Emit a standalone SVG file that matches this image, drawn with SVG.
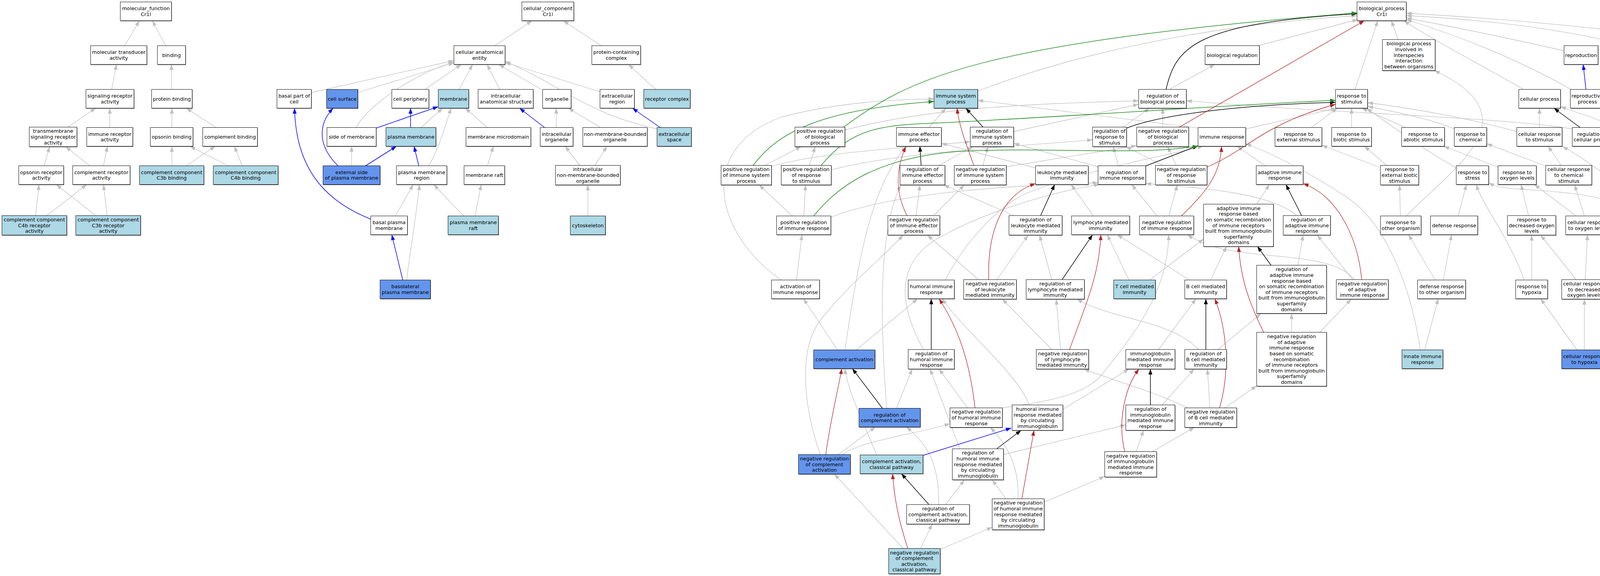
<svg xmlns="http://www.w3.org/2000/svg" width="4752" height="1475" viewBox="0 0 4752 1475">
<defs>
<style>
text{font-family:"DejaVu Sans","Liberation Sans",sans-serif;font-size:12.8px;text-anchor:middle;fill:#000}
.s{fill:#4a4a4a}
.w{fill:#fff;stroke:#000;stroke-width:1}
.lb{fill:#add8e6;stroke:#000;stroke-width:1}
.cb{fill:#6495ed;stroke:#000;stroke-width:1}
#edges path{fill:none}
.g{stroke:#c0c0c0;stroke-width:1.3;marker-end:url(#ag)}
.k{stroke:#000;stroke-width:1.5;marker-end:url(#ak)}
.b{stroke:#0000ff;stroke-width:1.5;marker-end:url(#ab)}
.gr{stroke:#228b22;stroke-width:1.5;marker-end:url(#agr)}
.r{stroke:#b22222;stroke-width:1.3;marker-end:url(#ar)}
</style>
<marker id="ag" markerWidth="14" markerHeight="10" refX="14" refY="5" orient="auto" markerUnits="userSpaceOnUse"><path d="M0,0 L14,5 L0,10 z" fill="#c0c0c0"/></marker>
<marker id="ak" markerWidth="14" markerHeight="10" refX="14" refY="5" orient="auto" markerUnits="userSpaceOnUse"><path d="M0,0 L14,5 L0,10 z" fill="#000"/></marker>
<marker id="ab" markerWidth="14" markerHeight="10" refX="14" refY="5" orient="auto" markerUnits="userSpaceOnUse"><path d="M0,0 L14,5 L0,10 z" fill="#0000ff"/></marker>
<marker id="agr" markerWidth="14" markerHeight="10" refX="14" refY="5" orient="auto" markerUnits="userSpaceOnUse"><path d="M0,0 L14,5 L0,10 z" fill="#228b22"/></marker>
<marker id="ar" markerWidth="14" markerHeight="10" refX="14" refY="5" orient="auto" markerUnits="userSpaceOnUse"><path d="M0,0 L14,5 L0,10 z" fill="#b22222"/></marker>
</defs>
<rect x="0" y="0" width="4752" height="1475" fill="#fff"/>
<g id="edges">
<path class="g" d="M319,117 L357,53"/>
<path class="g" d="M424,117 L390,53"/>
<path class="g" d="M286,229 L298,165"/>
<path class="g" d="M439,229 L439,165"/>
<path class="g" d="M173,326 L245,277"/>
<path class="g" d="M281,326.5 L281,277"/>
<path class="g" d="M440,326.5 L440,277"/>
<path class="g" d="M553,326.5 L477,277"/>
<path class="g" d="M113,424.5 L127,375.5"/>
<path class="g" d="M230,424.5 L168,375.5"/>
<path class="g" d="M265,424.5 L275,374.5"/>
<path class="g" d="M440,424.5 L440,374.5"/>
<path class="g" d="M477,424.5 L551,374.5"/>
<path class="g" d="M584,424.5 L486,374.5"/>
<path class="g" d="M620,424.5 L600,374.5"/>
<path class="g" d="M91,552 L100,472.5"/>
<path class="g" d="M120,552 L222,472.5"/>
<path class="g" d="M245,552 L144,472.5"/>
<path class="g" d="M274,552 L265,472.5"/>
<path class="g" d="M1267,117 L1362,53"/>
<path class="g" d="M1539,117 L1442,53"/>
<path class="g" d="M797,237 L1162,155"/>
<path class="g" d="M916,237 L1162,161"/>
<path class="g" d="M912,326.5 C940,270 1060,190 1162,158"/>
<path class="g" d="M1088,229 L1181,165"/>
<path class="g" d="M1175,229 L1210,165"/>
<path class="g" d="M1279,229 L1247,165"/>
<path class="g" d="M1387,230 L1277,165"/>
<path class="g" d="M1536,235 L1293,160"/>
<path class="g" d="M1681,330 C1500,290 1440,220 1293,157"/>
<path class="g" d="M1679,229 L1609,165"/>
<path class="g" d="M1078,326.5 L1133,277"/>
<path class="g" d="M1248,326.5 L1191,277"/>
<path class="g" d="M1424,326.5 L1424,277"/>
<path class="g" d="M1537,326.5 L1455,277"/>
<path class="g" d="M900,424.5 L900,374.5"/>
<path class="g" d="M1098,424.5 C1128,370 1140,320 1155,277"/>
<path class="g" d="M1248,424.5 L1263,374.5"/>
<path class="g" d="M1484,423.5 L1447,374.5"/>
<path class="g" d="M1523,423.5 L1554,374.5"/>
<path class="g" d="M1012,553 L1058,472.5"/>
<path class="g" d="M1041,717 C1050,640 1065,560 1074,472.5"/>
<path class="g" d="M1187,553 L1110,472.5"/>
<path class="g" d="M1216,553 L1232,472.5"/>
<path class="g" d="M1505,553 L1505,473.5"/>
<path class="b" d="M963,328 L1122,273"/>
<path class="b" d="M1051,326.5 L1051,277"/>
<path class="b" d="M1394,326.5 L1330,277"/>
<path class="b" d="M1690,326.5 L1619,277"/>
<path class="b" d="M865,424.5 C815,375 812,320 853,277"/>
<path class="b" d="M936,424.5 L1015,374.5"/>
<path class="b" d="M1072,424.5 L1060,374.5"/>
<path class="b" d="M949,561 C820,510 757,420 754,277"/>
<path class="b" d="M1031,717 L1003,601"/>
<path class="g" d="M3220,117 L3476,50"/>
<path class="g" d="M2503,233 C2800,120 3150,60 3474,40"/>
<path class="g" d="M3469,229 L3527,53"/>
<path class="g" d="M3579,101.5 L3562,53"/>
<path class="g" d="M4004,130 C3850,95 3700,65 3600,46"/>
<path class="g" d="M4472,128 C4300,90 3900,50 3600,34"/>
<path class="g" d="M3900,229 C3800,170 3680,110 3594,53"/>
<path class="g" d="M4022,229 C3900,160 3760,100 3600,50"/>
<path class="g" d="M4443,229 C4300,130 4000,60 3600,40"/>
<path class="g" d="M2994,229 L3110,165"/>
<path class="g" d="M4628,229 L4556,165"/>
<path class="g" d="M2163,333 C2400,270 2700,265 2915,258"/>
<path class="g" d="M2378,326.5 L2422,277"/>
<path class="g" d="M2595,337 L2915,267"/>
<path class="g" d="M2875,325.5 L2943,277"/>
<path class="g" d="M2976.5,325.5 L2976.5,277"/>
<path class="g" d="M3067,328 L2503,257"/>
<path class="g" d="M3190,330 L3421,277"/>
<path class="g" d="M3357,326.5 L3424,277"/>
<path class="g" d="M3460,326.5 L3460,277"/>
<path class="g" d="M3598,326.5 L3486,277"/>
<path class="g" d="M3723,330 C3650,300 3560,285 3501,272"/>
<path class="g" d="M3883,337 C3750,300 3600,275 3501,263"/>
<path class="g" d="M3941,326.5 L3941,277"/>
<path class="g" d="M4025,330 C3850,300 3400,290 3037,258"/>
<path class="g" d="M4158,330 L3995,273"/>
<path class="g" d="M4271,330 L4107,271"/>
<path class="g" d="M4493,326.5 L4493,277"/>
<path class="g" d="M4619,326.5 L4537,277"/>
<path class="g" d="M4658,326.5 L4658,277"/>
<path class="g" d="M1958,423.5 L2051,375.5"/>
<path class="g" d="M1975,426 C2100,390 2300,380 2484,363"/>
<path class="g" d="M2072,423.5 L2087,375.5"/>
<path class="g" d="M2128,435 C2300,390 2600,375 2797,358"/>
<path class="g" d="M2404,423.5 L2491,375.5"/>
<path class="g" d="M2516.5,423.5 L2529,375.5"/>
<path class="g" d="M2576,427 L2910,373"/>
<path class="g" d="M2651,430 L2410,367"/>
<path class="g" d="M2811,427 L2595,367"/>
<path class="g" d="M2863,424.5 L2850,375.5"/>
<path class="g" d="M2977,423.5 L2882,375.5"/>
<path class="g" d="M3011,423.5 L2989,375.5"/>
<path class="g" d="M3239,424.5 L3167,374.5"/>
<path class="g" d="M3531,428 L3384,372"/>
<path class="g" d="M3550,423.5 L3493,374.5"/>
<path class="g" d="M3728,430 C3640,380 3560,320 3498,277"/>
<path class="g" d="M3835,428 L3696,374.5"/>
<path class="g" d="M3955,424.5 L3806,368"/>
<path class="g" d="M3997,423.5 L3963,374.5"/>
<path class="g" d="M4164,424.5 L4111,374.5"/>
<path class="g" d="M4309,424.5 L4228,374.5"/>
<path class="g" d="M4465,424.5 L4372,375.5"/>
<path class="g" d="M4506,424.5 L4499,374.5"/>
<path class="g" d="M4670,424.5 L4662,374.5"/>
<path class="g" d="M2029,553 L1943,473.5"/>
<path class="g" d="M2058,553 L2062,473.5"/>
<path class="g" d="M2127,556 C2300,490 2600,475 2811,468"/>
<path class="g" d="M2345,552 L2355,473.5"/>
<path class="g" d="M2390,552 L2469,473.5"/>
<path class="g" d="M2595,552 L2416,473.5"/>
<path class="g" d="M2799,553 L2742,472.5"/>
<path class="g" d="M2962,553 L2897,472.5"/>
<path class="g" d="M2992,553 L3014,473.5"/>
<path class="g" d="M3217,523 L3250,472.5"/>
<path class="g" d="M3319,552 C3250,490 3050,480 2933,470"/>
<path class="g" d="M3585,553 L3583,473.5"/>
<path class="g" d="M3600,553 C3720,430 3930,300 3672,180.5"/>
<path class="g" d="M3733,553 L3754,472.5"/>
<path class="g" d="M3913,552 L3894,472.5"/>
<path class="g" d="M4035,553 L3928,472.5"/>
<path class="g" d="M4056,553 L4031,473.5"/>
<path class="g" d="M4183,553 C4150,500 4000,492 3900,485 C3850,482 3830,478 3811,468"/>
<path class="g" d="M4191,553 C4160,480 4080,420 4000,375"/>
<path class="g" d="M4337,552 L4229,472.5"/>
<path class="g" d="M4673.5,552 L4673.5,472.5"/>
<path class="g" d="M2039,717 L2053,601"/>
<path class="g" d="M2000,717 C1830,600 1780,380 2000,300 C2150,260 2300,255 2391,253"/>
<path class="g" d="M2420,717 C2470,620 2560,520 2640,490 C2800,430 2980,400 3080,374.5"/>
<path class="g" d="M2552,716 L2632,602"/>
<path class="g" d="M2505,716 L2374,602"/>
<path class="g" d="M2692.6,716 L2661,602"/>
<path class="g" d="M2890,717 L2834.5,601"/>
<path class="g" d="M2943,717 L3081,612"/>
<path class="g" d="M3045.5,717 L2860,601"/>
<path class="g" d="M3099,717 L3140,631"/>
<path class="g" d="M3322.5,679 L3336,602"/>
<path class="g" d="M3463,716 L3372,602"/>
<path class="g" d="M3467,716 C3400,630 3150,680 3040,601"/>
<path class="g" d="M3674,717 L3606,601"/>
<path class="g" d="M3695,717 L3716,601"/>
<path class="g" d="M3921,717 L3921,602"/>
<path class="g" d="M3902,717 C3860,600 3790,520 3780,472.5"/>
<path class="g" d="M4035,716 L3944,602"/>
<path class="g" d="M4058,716 L4064,601"/>
<path class="g" d="M4673,717 L4673,602"/>
<path class="g" d="M2144,896 L2057,765"/>
<path class="g" d="M2192,896 L2349,765"/>
<path class="g" d="M2163,896 C2200,650 2230,480 2320,374.5"/>
<path class="g" d="M2364,895 C2290,760 2300,660 2420,600 C2530,540 2700,490 2815,472.5"/>
<path class="g" d="M2715,895 L2704,766"/>
<path class="g" d="M2692.6,895 L2566,766"/>
<path class="g" d="M2966,895 L3062,765"/>
<path class="g" d="M3068,895 C3000,820 2850,820 2757,766"/>
<path class="g" d="M3118,895 L3228,803"/>
<path class="g" d="M3306.5,851 L3306.5,803"/>
<path class="g" d="M3379,851 L3459,766"/>
<path class="g" d="M3647,896 L3682,765"/>
<path class="g" d="M3636,896 C3610,720 3540,560 3440,500 C3350,440 3250,390 3189,368"/>
<path class="g" d="M4037,896 L3944,765"/>
<path class="g" d="M4056,896 L4056,766"/>
<path class="g" d="M4673.5,896 L4673.5,765"/>
<path class="g" d="M2270,1045.5 C2255,850 2245,600 2306,473.5"/>
<path class="g" d="M2295,1045.5 L2335,945"/>
<path class="g" d="M2477,1044.5 L2404,945"/>
<path class="g" d="M2560,1045 C2680,1030 2780,1010 2820,960 C2900,860 2990,750 2992,601"/>
<path class="g" d="M2635,1037 C2600,950 2470,850 2412,765"/>
<path class="g" d="M2721,1048 L2890,945"/>
<path class="g" d="M2975,1037 L3057,945"/>
<path class="g" d="M3097.5,1044.5 L3091,945"/>
<path class="g" d="M3041,1045 C2950,1000 2850,975 2775,945"/>
<path class="g" d="M3135,1044.5 L3217,988"/>
<path class="g" d="M2146,1164 L2241,1093.5"/>
<path class="g" d="M2156,1164 C2200,1130 2350,1110 2432,1085"/>
<path class="g" d="M2100,1164 C2060,1050 2040,900 2100,820 C2180,720 2260,660 2312,602"/>
<path class="g" d="M2244,1165 C2210,1080 2170,1000 2163,944"/>
<path class="g" d="M2457,1149 L2381,945"/>
<path class="g" d="M2569,1164 L2882,1088"/>
<path class="g" d="M2908.5,1156.5 L2927.5,1102"/>
<path class="g" d="M2950,1156.5 L3058,1094.5"/>
<path class="g" d="M2421,1292 L2469,1229"/>
<path class="g" d="M2403,1292 C2405,1200 2380,1140 2320,1093.5"/>
<path class="g" d="M2575,1277 L2540,1229"/>
<path class="g" d="M2673,1286 L2828,1220"/>
<path class="g" d="M2606,1277 C2610,1200 2580,1140 2535,1094.5"/>
<path class="g" d="M2312,1404.5 L2136,1214"/>
<path class="g" d="M2357,1404.5 L2386,1342"/>
<path class="g" d="M2407,1407 L2540,1350"/>
<path class="k" d="M2985,229 C3010,120 3060,60 3474,35"/>
<path class="k" d="M2516.5,325.5 L2472.5,277"/>
<path class="k" d="M2884,328 C2980,290 3200,268 3419,262"/>
<path class="k" d="M4045,326.5 L3978,277"/>
<path class="k" d="M2358,423.5 L2355,374.5"/>
<path class="k" d="M2933,425 L3067,373"/>
<path class="k" d="M4194.5,424.5 L4194.5,374.5"/>
<path class="k" d="M2664,552 L2700,472.5"/>
<path class="k" d="M3332,552 L3292,472.5"/>
<path class="k" d="M4366,552 L4351,472.5"/>
<path class="k" d="M2719,716 L2797,601"/>
<path class="k" d="M3254,679.5 L3219,631"/>
<path class="k" d="M2384,895 L2384,765"/>
<path class="k" d="M3087,895 L3087,765"/>
<path class="k" d="M2259,1045.5 L2182,944"/>
<path class="k" d="M2945,1037 L2945,945"/>
<path class="k" d="M2552,1149 L2614,1102"/>
<path class="k" d="M2378,1292 L2307.5,1213"/>
<path class="gr" d="M2159,326 C2330,200 2500,110 3474,33"/>
<path class="gr" d="M1928,423.5 C1990,340 2100,280 2391,260"/>
<path class="gr" d="M2102,423.5 C2180,330 2250,320 2400,315 C2800,295 3200,265 3419,257"/>
<path class="gr" d="M2083,553 C2150,470 2250,405 2450,388 C2700,375 2900,400 3067,374"/>
<path class="r" d="M3019,325.5 L3493,53"/>
<path class="r" d="M2493,423.5 C2470,360 2455,320 2450,277"/>
<path class="r" d="M3090,428 C3200,380 3230,320 3419,267"/>
<path class="r" d="M2322,552 C2295,500 2290,440 2319,375.5"/>
<path class="r" d="M3024,553 C3080,500 3125,450 3127,375"/>
<path class="r" d="M2531,716 C2528,600 2560,500 2651,470"/>
<path class="r" d="M3486,716 C3475,600 3420,500 3336,470"/>
<path class="r" d="M2738,895 C2780,780 2815,700 2818,601"/>
<path class="r" d="M3235,851 C3190,760 3175,700 3171,631"/>
<path class="r" d="M2496,1044.5 C2480,900 2440,820 2404,765"/>
<path class="r" d="M3122,1044.5 C3150,950 3140,840 3110,765"/>
<path class="r" d="M2114,1164 C2125,1080 2145,1000 2155,944"/>
<path class="r" d="M2879.5,1156.5 C2860,1080 2880,990 2916,945"/>
<path class="r" d="M2616,1277 L2647,1102"/>
<path class="r" d="M2324,1404.5 C2300,1330 2290,1280 2285,1213"/>
<path class="b" d="M4060,229 L4053,165"/>
<path class="b" d="M2363,1166 L2589,1096"/>
</g>
<g id="nodes">
<g id="mf"><rect class="s" x="309" y="6.3" width="131" height="48"/><rect class="w" x="308" y="5" width="131" height="48"/><text x="373.5" y="26.2">molecular_function<tspan x="373.5" dy="14.6">Cr1l</tspan></text></g>
<g id="mta"><rect class="s" x="233" y="118.3" width="144" height="48"/><rect class="w" x="232" y="117" width="144" height="48"/><text x="304" y="138.2">molecular transducer<tspan x="304" dy="14.6">activity</tspan></text></g>
<g id="bind"><rect class="s" x="404" y="118.3" width="72" height="48"/><rect class="w" x="403" y="117" width="72" height="48"/><text x="439" y="145.5">binding</text></g>
<g id="sra"><rect class="s" x="221" y="230.3" width="123" height="48"/><rect class="w" x="220" y="229" width="123" height="48"/><text x="281.5" y="250.2">signaling receptor<tspan x="281.5" dy="14.6">activity</tspan></text></g>
<g id="pb"><rect class="s" x="389" y="230.3" width="104" height="48"/><rect class="w" x="388" y="229" width="104" height="48"/><text x="440" y="257.5">protein binding</text></g>
<g id="tsra"><rect class="s" x="76" y="326.8" width="122" height="50"/><rect class="w" x="75" y="325.5" width="122" height="50"/><text x="136" y="340.4">transmembrane<tspan x="136" dy="14.6">signaling receptor</tspan><tspan x="136" dy="14.6">activity</tspan></text></g>
<g id="ira"><rect class="s" x="223" y="327.8" width="118" height="48"/><rect class="w" x="222" y="326.5" width="118" height="48"/><text x="281" y="347.7">immune receptor<tspan x="281" dy="14.6">activity</tspan></text></g>
<g id="ob"><rect class="s" x="386" y="327.8" width="109" height="48"/><rect class="w" x="385" y="326.5" width="109" height="48"/><text x="439.5" y="355">opsonin binding</text></g>
<g id="cbind"><rect class="s" x="520" y="327.8" width="140" height="48"/><rect class="w" x="519" y="326.5" width="140" height="48"/><text x="589" y="355">complement binding</text></g>
<g id="ora"><rect class="s" x="49" y="425.8" width="115" height="48"/><rect class="w" x="48" y="424.5" width="115" height="48"/><text x="105.5" y="445.7">opsonin receptor<tspan x="105.5" dy="14.6">activity</tspan></text></g>
<g id="cra"><rect class="s" x="187" y="425.8" width="147" height="48"/><rect class="w" x="186" y="424.5" width="147" height="48"/><text x="259.5" y="445.7">complement receptor<tspan x="259.5" dy="14.6">activity</tspan></text></g>
<g id="c3bb"><rect class="s" x="358" y="425.8" width="165" height="48"/><rect class="lb" x="357" y="424.5" width="165" height="48"/><text x="439.5" y="445.7">complement component<tspan x="439.5" dy="14.6">C3b binding</tspan></text></g>
<g id="c4bb"><rect class="s" x="547" y="425.8" width="166" height="48"/><rect class="lb" x="546" y="424.5" width="166" height="48"/><text x="629" y="445.7">complement component<tspan x="629" dy="14.6">C4b binding</tspan></text></g>
<g id="c4bra"><rect class="s" x="6" y="553.3" width="166" height="50"/><rect class="lb" x="5" y="552" width="166" height="50"/><text x="88" y="566.9">complement component<tspan x="88" dy="14.6">C4b receptor</tspan><tspan x="88" dy="14.6">activity</tspan></text></g>
<g id="c3bra"><rect class="s" x="195" y="553.3" width="166" height="50"/><rect class="lb" x="194" y="552" width="166" height="50"/><text x="277" y="566.9">complement component<tspan x="277" dy="14.6">C3b receptor</tspan><tspan x="277" dy="14.6">activity</tspan></text></g>
<g id="cc"><rect class="s" x="1337" y="6.3" width="133" height="48"/><rect class="w" x="1336" y="5" width="133" height="48"/><text x="1402.5" y="26.2">cellular_component<tspan x="1402.5" dy="14.6">Cr1l</tspan></text></g>
<g id="cae"><rect class="s" x="1163" y="118.3" width="131" height="48"/><rect class="w" x="1162" y="117" width="131" height="48"/><text x="1227.5" y="138.2">cellular anatomical<tspan x="1227.5" dy="14.6">entity</tspan></text></g>
<g id="pcc"><rect class="s" x="1516" y="118.3" width="125" height="48"/><rect class="w" x="1515" y="117" width="125" height="48"/><text x="1577.5" y="138.2">protein-containing<tspan x="1577.5" dy="14.6">complex</tspan></text></g>
<g id="bpc"><rect class="s" x="710" y="230.3" width="88" height="48"/><rect class="w" x="709" y="229" width="88" height="48"/><text x="753" y="250.2">basal part of<tspan x="753" dy="14.6">cell</tspan></text></g>
<g id="cs"><rect class="s" x="837" y="230.3" width="80" height="48"/><rect class="cb" x="836" y="229" width="80" height="48"/><text x="876" y="257.5">cell surface</text></g>
<g id="cp"><rect class="s" x="1004" y="230.3" width="95" height="48"/><rect class="w" x="1003" y="229" width="95" height="48"/><text x="1050.5" y="257.5">cell periphery</text></g>
<g id="mem"><rect class="s" x="1123" y="230.3" width="78" height="48"/><rect class="lb" x="1122" y="229" width="78" height="48"/><text x="1161" y="257.5">membrane</text></g>
<g id="ias"><rect class="s" x="1225" y="230.3" width="141" height="48"/><rect class="w" x="1224" y="229" width="141" height="48"/><text x="1294.5" y="250.2">intracellular<tspan x="1294.5" dy="14.6">anatomical structure</tspan></text></g>
<g id="org"><rect class="s" x="1390" y="230.3" width="73" height="48"/><rect class="w" x="1389" y="229" width="73" height="48"/><text x="1425.5" y="257.5">organelle</text></g>
<g id="ecr"><rect class="s" x="1537" y="230.3" width="88" height="48"/><rect class="w" x="1536" y="229" width="88" height="48"/><text x="1580" y="250.2">extracellular<tspan x="1580" dy="14.6">region</tspan></text></g>
<g id="rc"><rect class="s" x="1649" y="230.3" width="119" height="48"/><rect class="lb" x="1648" y="229" width="119" height="48"/><text x="1707.5" y="257.5">receptor complex</text></g>
<g id="som"><rect class="s" x="838" y="327.8" width="126" height="48"/><rect class="w" x="837" y="326.5" width="126" height="48"/><text x="900" y="355">side of membrane</text></g>
<g id="pm"><rect class="s" x="989" y="327.8" width="128" height="48"/><rect class="lb" x="988" y="326.5" width="128" height="48"/><text x="1052" y="355">plasma membrane</text></g>
<g id="mmd"><rect class="s" x="1194" y="327.8" width="166" height="48"/><rect class="w" x="1193" y="326.5" width="166" height="48"/><text x="1276" y="355">membrane microdomain</text></g>
<g id="io"><rect class="s" x="1384" y="327.8" width="84" height="48"/><rect class="w" x="1383" y="326.5" width="84" height="48"/><text x="1425" y="347.7">intracellular<tspan x="1425" dy="14.6">organelle</tspan></text></g>
<g id="nmbo"><rect class="s" x="1493" y="327.8" width="165" height="48"/><rect class="w" x="1492" y="326.5" width="165" height="48"/><text x="1574.5" y="347.7">non-membrane-bounded<tspan x="1574.5" dy="14.6">organelle</tspan></text></g>
<g id="ecs"><rect class="s" x="1683" y="327.8" width="88" height="48"/><rect class="lb" x="1682" y="326.5" width="88" height="48"/><text x="1726" y="347.7">extracellular<tspan x="1726" dy="14.6">space</tspan></text></g>
<g id="espm"><rect class="s" x="828" y="425.8" width="146" height="48"/><rect class="cb" x="827" y="424.5" width="146" height="48"/><text x="900" y="445.7">external side<tspan x="900" dy="14.6">of plasma membrane</tspan></text></g>
<g id="pmr"><rect class="s" x="1016" y="425.8" width="129" height="48"/><rect class="w" x="1015" y="424.5" width="129" height="48"/><text x="1079.5" y="445.7">plasma membrane<tspan x="1079.5" dy="14.6">region</tspan></text></g>
<g id="mr"><rect class="s" x="1189" y="425.8" width="104" height="48"/><rect class="w" x="1188" y="424.5" width="104" height="48"/><text x="1240" y="453">membrane raft</text></g>
<g id="inmbo"><rect class="s" x="1423" y="424.8" width="166" height="50"/><rect class="w" x="1422" y="423.5" width="166" height="50"/><text x="1505" y="438.4">intracellular<tspan x="1505" dy="14.6">non-membrane-bounded</tspan><tspan x="1505" dy="14.6">organelle</tspan></text></g>
<g id="bpm"><rect class="s" x="950" y="554.3" width="94" height="48"/><rect class="w" x="949" y="553" width="94" height="48"/><text x="996" y="574.2">basal plasma<tspan x="996" dy="14.6">membrane</tspan></text></g>
<g id="pmraft"><rect class="s" x="1148" y="554.3" width="129" height="48"/><rect class="lb" x="1147" y="553" width="129" height="48"/><text x="1211.5" y="574.2">plasma membrane<tspan x="1211.5" dy="14.6">raft</tspan></text></g>
<g id="cyto"><rect class="s" x="1461" y="554.3" width="90" height="48"/><rect class="lb" x="1460" y="553" width="90" height="48"/><text x="1505" y="581.5">cytoskeleton</text></g>
<g id="blpm"><rect class="s" x="974" y="718.3" width="129" height="48"/><rect class="cb" x="973" y="717" width="129" height="48"/><text x="1037.5" y="738.2">basolateral<tspan x="1037.5" dy="14.6">plasma membrane</tspan></text></g>
<g id="bp"><rect class="s" x="3475" y="6.3" width="126" height="48"/><rect class="w" x="3474" y="5" width="126" height="48"/><text x="3537" y="26.2">biological_process<tspan x="3537" dy="14.6">Cr1l</tspan></text></g>
<g id="breg"><rect class="s" x="3086" y="118.3" width="139" height="48"/><rect class="w" x="3085" y="117" width="139" height="48"/><text x="3154.5" y="145.5">biological regulation</text></g>
<g id="bpii"><rect class="s" x="3540" y="102.5" width="135" height="79.5"/><rect class="w" x="3539" y="101.25" width="135" height="79.5"/><text x="3606.5" y="116.3">biological process<tspan x="3606.5" dy="14.6">involved in</tspan><tspan x="3606.5" dy="14.6">interspecies</tspan><tspan x="3606.5" dy="14.6">interaction</tspan><tspan x="3606.5" dy="14.6">between organisms</tspan></text></g>
<g id="repro"><rect class="s" x="4005" y="118.3" width="87" height="48"/><rect class="w" x="4004" y="117" width="87" height="48"/><text x="4047.5" y="145.5">reproduction</text></g>
<g id="devp"><rect class="s" x="4473" y="118.3" width="104" height="48"/><rect class="w" x="4472" y="117" width="104" height="48"/><text x="4524" y="138.2">developmental<tspan x="4524" dy="14.6">process</tspan></text></g>
<g id="isp"><rect class="s" x="2392" y="230.3" width="112" height="48"/><rect class="lb" x="2391" y="229" width="112" height="48"/><text x="2447" y="250.2">immune system<tspan x="2447" dy="14.6">process</tspan></text></g>
<g id="rbp"><rect class="s" x="2916" y="230.3" width="122" height="48"/><rect class="w" x="2915" y="229" width="122" height="48"/><text x="2976" y="250.2">regulation of<tspan x="2976" dy="14.6">biological process</tspan></text></g>
<g id="rts"><rect class="s" x="3420" y="230.3" width="82" height="48"/><rect class="w" x="3419" y="229" width="82" height="48"/><text x="3460" y="250.2">response to<tspan x="3460" dy="14.6">stimulus</tspan></text></g>
<g id="cellp"><rect class="s" x="3889" y="230.3" width="107" height="48"/><rect class="w" x="3888" y="229" width="107" height="48"/><text x="3941.5" y="257.5">cellular process</text></g>
<g id="reprop"><rect class="s" x="4021" y="230.3" width="87" height="48"/><rect class="w" x="4020" y="229" width="87" height="48"/><text x="4063.5" y="250.2">reproductive<tspan x="4063.5" dy="14.6">process</tspan></text></g>
<g id="mop"><rect class="s" x="4428" y="230.3" width="133" height="48"/><rect class="w" x="4427" y="229" width="133" height="48"/><text x="4493.5" y="250.2">multicellular<tspan x="4493.5" dy="14.6">organismal process</tspan></text></g>
<g id="asd"><rect class="s" x="4588" y="230.3" width="141" height="48"/><rect class="w" x="4587" y="229" width="141" height="48"/><text x="4657.5" y="250.2">anatomical structure<tspan x="4657.5" dy="14.6">development</tspan></text></g>
<g id="prbp"><rect class="s" x="2036" y="326.8" width="128" height="50"/><rect class="w" x="2035" y="325.5" width="128" height="50"/><text x="2099" y="340.4">positive regulation<tspan x="2099" dy="14.6">of biological</tspan><tspan x="2099" dy="14.6">process</tspan></text></g>
<g id="iep"><rect class="s" x="2296" y="327.8" width="115" height="48"/><rect class="w" x="2295" y="326.5" width="115" height="48"/><text x="2352.5" y="347.7">immune effector<tspan x="2352.5" dy="14.6">process</tspan></text></g>
<g id="risp"><rect class="s" x="2485" y="326.8" width="111" height="50"/><rect class="w" x="2484" y="325.5" width="111" height="50"/><text x="2539.5" y="340.4">regulation of<tspan x="2539.5" dy="14.6">immune system</tspan><tspan x="2539.5" dy="14.6">process</tspan></text></g>
<g id="rrts"><rect class="s" x="2798" y="326.8" width="87" height="50"/><rect class="w" x="2797" y="325.5" width="87" height="50"/><text x="2840.5" y="340.4">regulation of<tspan x="2840.5" dy="14.6">response to</tspan><tspan x="2840.5" dy="14.6">stimulus</tspan></text></g>
<g id="nrbp"><rect class="s" x="2911" y="326.8" width="133" height="50"/><rect class="w" x="2910" y="325.5" width="133" height="50"/><text x="2976.5" y="340.4">negative regulation<tspan x="2976.5" dy="14.6">of biological</tspan><tspan x="2976.5" dy="14.6">process</tspan></text></g>
<g id="ir"><rect class="s" x="3068" y="327.8" width="122" height="48"/><rect class="w" x="3067" y="326.5" width="122" height="48"/><text x="3128" y="355">immune response</text></g>
<g id="rtes"><rect class="s" x="3265" y="327.8" width="120" height="48"/><rect class="w" x="3264" y="326.5" width="120" height="48"/><text x="3324" y="347.7">response to<tspan x="3324" dy="14.6">external stimulus</tspan></text></g>
<g id="rtbs"><rect class="s" x="3410" y="327.8" width="102" height="48"/><rect class="w" x="3409" y="326.5" width="102" height="48"/><text x="3460" y="347.7">response to<tspan x="3460" dy="14.6">biotic stimulus</tspan></text></g>
<g id="rtas"><rect class="s" x="3589" y="327.8" width="110" height="48"/><rect class="w" x="3588" y="326.5" width="110" height="48"/><text x="3643" y="347.7">response to<tspan x="3643" dy="14.6">abiotic stimulus</tspan></text></g>
<g id="rtc"><rect class="s" x="3724" y="327.8" width="83" height="48"/><rect class="w" x="3723" y="326.5" width="83" height="48"/><text x="3764.5" y="347.7">response to<tspan x="3764.5" dy="14.6">chemical</tspan></text></g>
<g id="crts"><rect class="s" x="3884" y="327.8" width="116" height="48"/><rect class="w" x="3883" y="326.5" width="116" height="48"/><text x="3941" y="347.7">cellular response<tspan x="3941" dy="14.6">to stimulus</tspan></text></g>
<g id="rcp"><rect class="s" x="4026" y="327.8" width="107" height="48"/><rect class="w" x="4025" y="326.5" width="107" height="48"/><text x="4078.5" y="347.7">regulation of<tspan x="4078.5" dy="14.6">cellular process</tspan></text></g>
<g id="ck"><rect class="s" x="4159" y="327.8" width="73" height="48"/><rect class="w" x="4158" y="326.5" width="73" height="48"/><text x="4194.5" y="355">cell killing</text></g>
<g id="morp"><rect class="s" x="4272" y="326.8" width="106" height="50"/><rect class="w" x="4271" y="325.5" width="106" height="50"/><text x="4324" y="340.4">multi-organism<tspan x="4324" dy="14.6">reproductive</tspan><tspan x="4324" dy="14.6">process</tspan></text></g>
<g id="mmop"><rect class="s" x="4431" y="327.8" width="126" height="48"/><rect class="w" x="4430" y="326.5" width="126" height="48"/><text x="4493" y="347.7">multi-multicellular<tspan x="4493" dy="14.6">organism process</tspan></text></g>
<g id="mod"><rect class="s" x="4582" y="327.8" width="157" height="48"/><rect class="lb" x="4581" y="326.5" width="157" height="48"/><text x="4659.5" y="347.7">multicellular<tspan x="4659.5" dy="14.6">organism development</tspan></text></g>
<g id="prisp"><rect class="s" x="1847" y="424.8" width="129" height="50"/><rect class="w" x="1846" y="423.5" width="129" height="50"/><text x="1910.5" y="438.4">positive regulation<tspan x="1910.5" dy="14.6">of immune system</tspan><tspan x="1910.5" dy="14.6">process</tspan></text></g>
<g id="prrts"><rect class="s" x="2001" y="424.8" width="128" height="50"/><rect class="w" x="2000" y="423.5" width="128" height="50"/><text x="2064" y="438.4">positive regulation<tspan x="2064" dy="14.6">of response</tspan><tspan x="2064" dy="14.6">to stimulus</tspan></text></g>
<g id="riep"><rect class="s" x="2305" y="424.8" width="115" height="50"/><rect class="w" x="2304" y="423.5" width="115" height="50"/><text x="2361.5" y="438.4">regulation of<tspan x="2361.5" dy="14.6">immune effector</tspan><tspan x="2361.5" dy="14.6">process</tspan></text></g>
<g id="nrisp"><rect class="s" x="2444" y="424.8" width="133" height="50"/><rect class="w" x="2443" y="423.5" width="133" height="50"/><text x="2509.5" y="438.4">negative regulation<tspan x="2509.5" dy="14.6">of immune system</tspan><tspan x="2509.5" dy="14.6">process</tspan></text></g>
<g id="lmi"><rect class="s" x="2652" y="425.8" width="135" height="48"/><rect class="w" x="2651" y="424.5" width="135" height="48"/><text x="2718.5" y="445.7">leukocyte mediated<tspan x="2718.5" dy="14.6">immunity</tspan></text></g>
<g id="rir"><rect class="s" x="2812" y="425.8" width="122" height="48"/><rect class="w" x="2811" y="424.5" width="122" height="48"/><text x="2872" y="445.7">regulation of<tspan x="2872" dy="14.6">immune response</tspan></text></g>
<g id="nrrts"><rect class="s" x="2959" y="424.8" width="132" height="50"/><rect class="w" x="2958" y="423.5" width="132" height="50"/><text x="3024" y="438.4">negative regulation<tspan x="3024" dy="14.6">of response</tspan><tspan x="3024" dy="14.6">to stimulus</tspan></text></g>
<g id="air"><rect class="s" x="3217" y="425.8" width="120" height="48"/><rect class="w" x="3216" y="424.5" width="120" height="48"/><text x="3276" y="445.7">adaptive immune<tspan x="3276" dy="14.6">response</tspan></text></g>
<g id="rtebs"><rect class="s" x="3535" y="424.8" width="98" height="50"/><rect class="w" x="3534" y="423.5" width="98" height="50"/><text x="3583" y="438.4">response to<tspan x="3583" dy="14.6">external biotic</tspan><tspan x="3583" dy="14.6">stimulus</tspan></text></g>
<g id="rtst"><rect class="s" x="3729" y="425.8" width="83" height="48"/><rect class="w" x="3728" y="424.5" width="83" height="48"/><text x="3769.5" y="445.7">response to<tspan x="3769.5" dy="14.6">stress</tspan></text></g>
<g id="rtol"><rect class="s" x="3836" y="425.8" width="98" height="48"/><rect class="w" x="3835" y="424.5" width="98" height="48"/><text x="3884" y="445.7">response to<tspan x="3884" dy="14.6">oxygen levels</tspan></text></g>
<g id="crtcs"><rect class="s" x="3958" y="424.8" width="118" height="50"/><rect class="w" x="3957" y="423.5" width="118" height="50"/><text x="4016" y="438.4">cellular response<tspan x="4016" dy="14.6">to chemical</tspan><tspan x="4016" dy="14.6">stimulus</tspan></text></g>
<g id="rck"><rect class="s" x="4152" y="425.8" width="87" height="48"/><rect class="w" x="4151" y="424.5" width="87" height="48"/><text x="4194.5" y="445.7">regulation of<tspan x="4194.5" dy="14.6">cell killing</tspan></text></g>
<g id="cdc"><rect class="s" x="4265" y="425.8" width="163" height="48"/><rect class="w" x="4264" y="424.5" width="163" height="48"/><text x="4345.5" y="445.7">complement-dependent<tspan x="4345.5" dy="14.6">cytotoxicity</tspan></text></g>
<g id="fp"><rect class="s" x="4453" y="425.8" width="123" height="48"/><rect class="lb" x="4452" y="424.5" width="123" height="48"/><text x="4513.5" y="453">female pregnancy</text></g>
<g id="ed"><rect class="s" x="4601" y="425.8" width="146" height="48"/><rect class="w" x="4600" y="424.5" width="146" height="48"/><text x="4673" y="453">embryo development</text></g>
<g id="prir"><rect class="s" x="1989" y="554.3" width="139" height="48"/><rect class="w" x="1988" y="553" width="139" height="48"/><text x="2057.5" y="574.2">positive regulation<tspan x="2057.5" dy="14.6">of immune response</tspan></text></g>
<g id="nriep"><rect class="s" x="2274" y="553.3" width="133" height="50"/><rect class="w" x="2273" y="552" width="133" height="50"/><text x="2339.5" y="566.9">negative regulation<tspan x="2339.5" dy="14.6">of immune effector</tspan><tspan x="2339.5" dy="14.6">process</tspan></text></g>
<g id="rlmi"><rect class="s" x="2584" y="553.3" width="136" height="50"/><rect class="w" x="2583" y="552" width="136" height="50"/><text x="2651" y="566.9">regulation of<tspan x="2651" dy="14.6">leukocyte mediated</tspan><tspan x="2651" dy="14.6">immunity</tspan></text></g>
<g id="lymi"><rect class="s" x="2744" y="554.3" width="149" height="48"/><rect class="w" x="2743" y="553" width="149" height="48"/><text x="2817.5" y="574.2">lymphocyte mediated<tspan x="2817.5" dy="14.6">immunity</tspan></text></g>
<g id="nrir"><rect class="s" x="2918" y="554.3" width="139" height="48"/><rect class="w" x="2917" y="553" width="139" height="48"/><text x="2986.5" y="574.2">negative regulation<tspan x="2986.5" dy="14.6">of immune response</tspan></text></g>
<g id="airsr"><rect class="s" x="3082" y="524" width="179" height="108.5"/><rect class="w" x="3081" y="522.75" width="179" height="108.5"/><text x="3170.5" y="537.7">adaptive immune<tspan x="3170.5" dy="14.6">response based</tspan><tspan x="3170.5" dy="14.6">on somatic recombination</tspan><tspan x="3170.5" dy="14.6">of immune receptors</tspan><tspan x="3170.5" dy="14.6">built from immunoglobulin</tspan><tspan x="3170.5" dy="14.6">superfamily</tspan><tspan x="3170.5" dy="14.6">domains</tspan></text></g>
<g id="rair"><rect class="s" x="3286" y="553.3" width="121" height="50"/><rect class="w" x="3285" y="552" width="121" height="50"/><text x="3345.5" y="566.9">regulation of<tspan x="3345.5" dy="14.6">adaptive immune</tspan><tspan x="3345.5" dy="14.6">response</tspan></text></g>
<g id="rtoo"><rect class="s" x="3535" y="554.3" width="104" height="48"/><rect class="w" x="3534" y="553" width="104" height="48"/><text x="3586" y="574.2">response to<tspan x="3586" dy="14.6">other organism</tspan></text></g>
<g id="dr"><rect class="s" x="3663" y="554.3" width="121" height="48"/><rect class="w" x="3662" y="553" width="121" height="48"/><text x="3722.5" y="581.5">defense response</text></g>
<g id="rtdol"><rect class="s" x="3860" y="553.3" width="124" height="50"/><rect class="w" x="3859" y="552" width="124" height="50"/><text x="3921" y="566.9">response to<tspan x="3921" dy="14.6">decreased oxygen</tspan><tspan x="3921" dy="14.6">levels</tspan></text></g>
<g id="crtol"><rect class="s" x="4009" y="554.3" width="118" height="48"/><rect class="w" x="4008" y="553" width="118" height="48"/><text x="4067" y="574.2">cellular response<tspan x="4067" dy="14.6">to oxygen levels</tspan></text></g>
<g id="crtst"><rect class="s" x="4150" y="554.3" width="117" height="48"/><rect class="w" x="4149" y="553" width="117" height="48"/><text x="4207.5" y="574.2">cellular response<tspan x="4207.5" dy="14.6">to stress</tspan></text></g>
<g id="rcdc"><rect class="s" x="4292" y="553.3" width="162" height="50"/><rect class="lb" x="4291" y="552" width="162" height="50"/><text x="4372" y="566.9">regulation of<tspan x="4372" dy="14.6">complement-dependent</tspan><tspan x="4372" dy="14.6">cytotoxicity</tspan></text></g>
<g id="edeb"><rect class="s" x="4601" y="553.3" width="147" height="50"/><rect class="w" x="4600" y="552" width="147" height="50"/><text x="4673.5" y="566.9">embryo development<tspan x="4673.5" dy="14.6">ending in birth</tspan><tspan x="4673.5" dy="14.6">or egg hatching</tspan></text></g>
<g id="aoir"><rect class="s" x="1976" y="718.3" width="123" height="48"/><rect class="w" x="1975" y="717" width="123" height="48"/><text x="2036.5" y="738.2">activation of<tspan x="2036.5" dy="14.6">immune response</tspan></text></g>
<g id="hir"><rect class="s" x="2326" y="718.3" width="118" height="48"/><rect class="w" x="2325" y="717" width="118" height="48"/><text x="2384" y="738.2">humoral immune<tspan x="2384" dy="14.6">response</tspan></text></g>
<g id="nrlmi"><rect class="s" x="2468" y="717.3" width="135" height="50"/><rect class="w" x="2467" y="716" width="135" height="50"/><text x="2534.5" y="730.9">negative regulation<tspan x="2534.5" dy="14.6">of leukocyte</tspan><tspan x="2534.5" dy="14.6">mediated immunity</tspan></text></g>
<g id="rlymi"><rect class="s" x="2628" y="717.3" width="149" height="50"/><rect class="w" x="2627" y="716" width="149" height="50"/><text x="2701.5" y="730.9">regulation of<tspan x="2701.5" dy="14.6">lymphocyte mediated</tspan><tspan x="2701.5" dy="14.6">immunity</tspan></text></g>
<g id="tcmi"><rect class="s" x="2852" y="718.3" width="107" height="48"/><rect class="lb" x="2851" y="717" width="107" height="48"/><text x="2904.5" y="738.2">T cell mediated<tspan x="2904.5" dy="14.6">immunity</tspan></text></g>
<g id="bcmi"><rect class="s" x="3034" y="718.3" width="107" height="48"/><rect class="w" x="3033" y="717" width="107" height="48"/><text x="3086.5" y="738.2">B cell mediated<tspan x="3086.5" dy="14.6">immunity</tspan></text></g>
<g id="rairsr"><rect class="s" x="3218" y="680.5" width="179" height="123.5"/><rect class="w" x="3217" y="679.25" width="179" height="123.5"/><text x="3306.5" y="694.4">regulation of<tspan x="3306.5" dy="14.6">adaptive immune</tspan><tspan x="3306.5" dy="14.6">response based</tspan><tspan x="3306.5" dy="14.6">on somatic recombination</tspan><tspan x="3306.5" dy="14.6">of immune receptors</tspan><tspan x="3306.5" dy="14.6">built from immunoglobulin</tspan><tspan x="3306.5" dy="14.6">superfamily</tspan><tspan x="3306.5" dy="14.6">domains</tspan></text></g>
<g id="nrair"><rect class="s" x="3422" y="717.3" width="133" height="50"/><rect class="w" x="3421" y="716" width="133" height="50"/><text x="3487.5" y="730.9">negative regulation<tspan x="3487.5" dy="14.6">of adaptive</tspan><tspan x="3487.5" dy="14.6">immune response</tspan></text></g>
<g id="drtoo"><rect class="s" x="3630" y="718.3" width="123" height="48"/><rect class="w" x="3629" y="717" width="123" height="48"/><text x="3690.5" y="738.2">defense response<tspan x="3690.5" dy="14.6">to other organism</tspan></text></g>
<g id="rth"><rect class="s" x="3881" y="718.3" width="82" height="48"/><rect class="w" x="3880" y="717" width="82" height="48"/><text x="3921" y="738.2">response to<tspan x="3921" dy="14.6">hypoxia</tspan></text></g>
<g id="crtdol"><rect class="s" x="3999" y="717.3" width="116" height="50"/><rect class="w" x="3998" y="716" width="116" height="50"/><text x="4056" y="730.9">cellular response<tspan x="4056" dy="14.6">to decreased</tspan><tspan x="4056" dy="14.6">oxygen levels</tspan></text></g>
<g id="ced"><rect class="s" x="4606" y="718.3" width="136" height="48"/><rect class="w" x="4605" y="717" width="136" height="48"/><text x="4673" y="738.2">chordate embryonic<tspan x="4673" dy="14.6">development</tspan></text></g>
<g id="ca"><rect class="s" x="2084" y="897.3" width="157" height="48"/><rect class="cb" x="2083" y="896" width="157" height="48"/><text x="2161.5" y="924.5">complement activation</text></g>
<g id="rhir"><rect class="s" x="2326" y="896.3" width="118" height="50"/><rect class="w" x="2325" y="895" width="118" height="50"/><text x="2384" y="909.9">regulation of<tspan x="2384" dy="14.6">humoral immune</tspan><tspan x="2384" dy="14.6">response</tspan></text></g>
<g id="nrlymi"><rect class="s" x="2654" y="896.3" width="134" height="50"/><rect class="w" x="2653" y="895" width="134" height="50"/><text x="2720" y="909.9">negative regulation<tspan x="2720" dy="14.6">of lymphocyte</tspan><tspan x="2720" dy="14.6">mediated immunity</tspan></text></g>
<g id="imir"><rect class="s" x="2883" y="896.3" width="126" height="50"/><rect class="w" x="2882" y="895" width="126" height="50"/><text x="2945" y="909.9">immunoglobulin<tspan x="2945" dy="14.6">mediated immune</tspan><tspan x="2945" dy="14.6">response</tspan></text></g>
<g id="rbcmi"><rect class="s" x="3034" y="896.3" width="107" height="50"/><rect class="w" x="3033" y="895" width="107" height="50"/><text x="3086.5" y="909.9">regulation of<tspan x="3086.5" dy="14.6">B cell mediated</tspan><tspan x="3086.5" dy="14.6">immunity</tspan></text></g>
<g id="nrairsr"><rect class="s" x="3218" y="852.3" width="179" height="138"/><rect class="w" x="3217" y="851" width="179" height="138"/><text x="3306.5" y="866.1">negative regulation<tspan x="3306.5" dy="14.6">of adaptive</tspan><tspan x="3306.5" dy="14.6">immune response</tspan><tspan x="3306.5" dy="14.6">based on somatic</tspan><tspan x="3306.5" dy="14.6">recombination</tspan><tspan x="3306.5" dy="14.6">of immune receptors</tspan><tspan x="3306.5" dy="14.6">built from immunoglobulin</tspan><tspan x="3306.5" dy="14.6">superfamily</tspan><tspan x="3306.5" dy="14.6">domains</tspan></text></g>
<g id="iir"><rect class="s" x="3590" y="897.3" width="105" height="48"/><rect class="lb" x="3589" y="896" width="105" height="48"/><text x="3641.5" y="917.2">innate immune<tspan x="3641.5" dy="14.6">response</tspan></text></g>
<g id="crth"><rect class="s" x="3999" y="897.3" width="116" height="48"/><rect class="cb" x="3998" y="896" width="116" height="48"/><text x="4056" y="917.2">cellular response<tspan x="4056" dy="14.6">to hypoxia</tspan></text></g>
<g id="iued"><rect class="s" x="4610" y="897.3" width="129" height="48"/><rect class="cb" x="4609" y="896" width="129" height="48"/><text x="4673.5" y="917.2">in utero embryonic<tspan x="4673.5" dy="14.6">development</tspan></text></g>
<g id="rca"><rect class="s" x="2200" y="1046.8" width="157" height="48"/><rect class="cb" x="2199" y="1045.5" width="157" height="48"/><text x="2277.5" y="1066.7">regulation of<tspan x="2277.5" dy="14.6">complement activation</tspan></text></g>
<g id="nrhir"><rect class="s" x="2433" y="1045.8" width="134" height="50"/><rect class="w" x="2432" y="1044.5" width="134" height="50"/><text x="2499" y="1059.4">negative regulation<tspan x="2499" dy="14.6">of humoral immune</tspan><tspan x="2499" dy="14.6">response</tspan></text></g>
<g id="hirmci"><rect class="s" x="2592" y="1038.3" width="130" height="65"/><rect class="w" x="2591" y="1037" width="130" height="65"/><text x="2656" y="1052.1">humoral immune<tspan x="2656" dy="14.6">response mediated</tspan><tspan x="2656" dy="14.6">by circulating</tspan><tspan x="2656" dy="14.6">immunoglobulin</tspan></text></g>
<g id="rimir"><rect class="s" x="2883" y="1038.3" width="126" height="65"/><rect class="w" x="2882" y="1037" width="126" height="65"/><text x="2945" y="1052.1">regulation of<tspan x="2945" dy="14.6">immunoglobulin</tspan><tspan x="2945" dy="14.6">mediated immune</tspan><tspan x="2945" dy="14.6">response</tspan></text></g>
<g id="nrbcmi"><rect class="s" x="3034" y="1045.8" width="133" height="50"/><rect class="w" x="3033" y="1044.5" width="133" height="50"/><text x="3099.5" y="1059.4">negative regulation<tspan x="3099.5" dy="14.6">of B cell mediated</tspan><tspan x="3099.5" dy="14.6">immunity</tspan></text></g>
<g id="nrca"><rect class="s" x="2045" y="1165.3" width="133" height="50"/><rect class="cb" x="2044" y="1164" width="133" height="50"/><text x="2110.5" y="1178.9">negative regulation<tspan x="2110.5" dy="14.6">of complement</tspan><tspan x="2110.5" dy="14.6">activation</tspan></text></g>
<g id="cacp"><rect class="s" x="2203" y="1166.3" width="161" height="48"/><rect class="lb" x="2202" y="1165" width="161" height="48"/><text x="2282.5" y="1186.2">complement activation,<tspan x="2282.5" dy="14.6">classical pathway</tspan></text></g>
<g id="rhirmci"><rect class="s" x="2439" y="1150.5" width="131" height="79.5"/><rect class="w" x="2438" y="1149.25" width="131" height="79.5"/><text x="2503.5" y="1164.3">regulation of<tspan x="2503.5" dy="14.6">humoral immune</tspan><tspan x="2503.5" dy="14.6">response mediated</tspan><tspan x="2503.5" dy="14.6">by circulating</tspan><tspan x="2503.5" dy="14.6">immunoglobulin</tspan></text></g>
<g id="nrimir"><rect class="s" x="2829" y="1157.8" width="133" height="65"/><rect class="w" x="2828" y="1156.5" width="133" height="65"/><text x="2894.5" y="1171.6">negative regulation<tspan x="2894.5" dy="14.6">of immunoglobulin</tspan><tspan x="2894.5" dy="14.6">mediated immune</tspan><tspan x="2894.5" dy="14.6">response</tspan></text></g>
<g id="rcacp"><rect class="s" x="2322" y="1293.3" width="161" height="50"/><rect class="w" x="2321" y="1292" width="161" height="50"/><text x="2401.5" y="1306.9">regulation of<tspan x="2401.5" dy="14.6">complement activation,</tspan><tspan x="2401.5" dy="14.6">classical pathway</tspan></text></g>
<g id="nrhirmci"><rect class="s" x="2541" y="1278.5" width="133" height="79.5"/><rect class="w" x="2540" y="1277.25" width="133" height="79.5"/><text x="2606.5" y="1292.3">negative regulation<tspan x="2606.5" dy="14.6">of humoral immune</tspan><tspan x="2606.5" dy="14.6">response mediated</tspan><tspan x="2606.5" dy="14.6">by circulating</tspan><tspan x="2606.5" dy="14.6">immunoglobulin</tspan></text></g>
<g id="nrcacp"><rect class="s" x="2276" y="1405.8" width="132" height="65"/><rect class="lb" x="2275" y="1404.5" width="132" height="65"/><text x="2341" y="1419.6">negative regulation<tspan x="2341" dy="14.6">of complement</tspan><tspan x="2341" dy="14.6">activation,</tspan><tspan x="2341" dy="14.6">classical pathway</tspan></text></g>
</g>
</svg>
